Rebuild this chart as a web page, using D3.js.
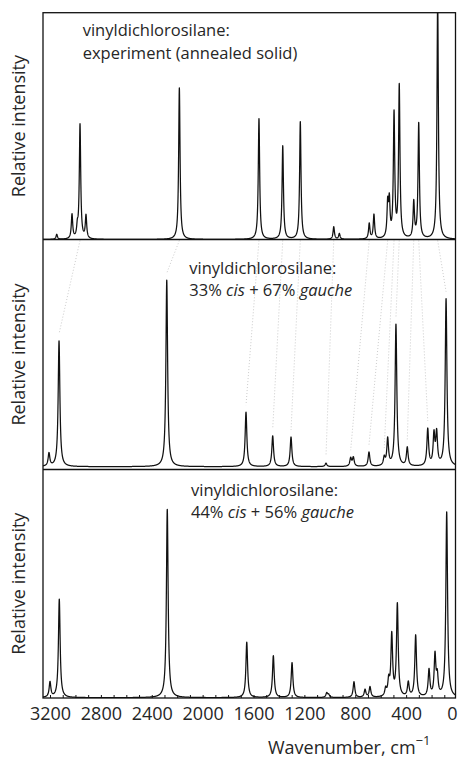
<!DOCTYPE html>
<html><head><meta charset="utf-8">
<script src="https://cdn.jsdelivr.net/npm/d3@7"></script>
<style>
body{margin:0;background:#fff}
text{font-family:"Open Sans",sans-serif;fill:#262626}
</style>
</head><body>
<svg id="chart" width="460" height="760"></svg>
<script>
// ---- data (wavenumber in cm-1, relative intensity 0-100) ----
const expWn  = [3147, 3027, 2985, 2964, 2917, 2183, 1557, 1370, 1232, 969, 925, 690, 653, 545, 532, 495, 454, 340, 301, 152];
const expI   = [2.2, 10.7, 4.4, 50.3, 10.1, 66.8, 53.2, 41.1, 51.8, 5.5, 2.5, 6.8, 10.7, 14.5, 15.4, 54.6, 67, 15.8, 50.8, 106];
const mix33Wn = [3208, 3129, 2282, 1659, 1449, 1305, 1030, 836, 815, 692, 572, 545, 480, 391, 230, 181, 160, 86];
const mix33I  = [5.7, 55.4, 82.2, 24, 13.5, 13, 1.5, 3.6, 3.9, 6.3, 3.6, 11.8, 62.5, 8.1, 16.2, 13.5, 14, 73.7];
const mix44Wn = [3200, 3127, 2278, 1653, 1444, 1297, 1024, 1009, 810, 723, 684, 561, 537, 513, 469, 383, 325, 220, 173, 155, 81];
const mix44I  = [6.7, 43.3, 83, 24.4, 18.4, 15.4, 2.0, 1.2, 6.9, 3.4, 4.6, 3.3, 6.6, 27, 40.7, 6.3, 27.2, 11.8, 18, 8.5, 81.5];
// correlation guide lines: experimental band -> calculated band (33% cis)
const corrFrom = [2964, 2183, 1557, 1370, 1232, 969, 690, 545, 495, 454, 340, 301, 152];
const corrTo   = [3129, 2282, 1659, 1449, 1305, 1030, 836, 692, 572, 480, 391, 230, 86];
const tickValues = [3200, 2800, 2400, 2000, 1600, 1200, 800, 400, 0];
const tickLabels = ["3200", "2800", "2400", "2000", "1600", "1200", "800", "400", "0"];
const minorTicks = d3.range(3200, -1, -100);
const titles = ["vinyldichlorosilane:", "vinyldichlorosilane:", "vinyldichlorosilane:"];
const subtitles = [
  [["experiment (annealed solid)", false]],
  [["33% ", false], ["cis", true], [" + 67% ", false], ["gauche", true]],
  [["44% ", false], ["cis", true], [" + 56% ", false], ["gauche", true]]
];
const yLabel = "Relative intensity";
const xLabel = "Wavenumber, cm";
const xLabelSup = "\u22121";

// ---- layout ----
const svg = d3.select("#chart");
const L = 43, R = 455.5;
const panels = [
  {top: 12.7, bottom: 239.5, base: 239.5, wn: expWn, I: expI, g: 6.5, tx: 82.7, ty: 36},
  {top: 239.5, bottom: 469.5, base: 466.7, wn: mix33Wn, I: mix33I, g: 8, tx: 189.3, ty: 273.5},
  {top: 469.5, bottom: 698, base: 697.7, wn: mix44Wn, I: mix44I, g: 8, tx: 191, ty: 495.5}
];
const x = d3.scaleLinear().domain([3200, 0]).range([50, 457]);
const grid = d3.range(3262, -1, -0.5);

function spectrum(wn, I, g) {
  return grid.map(w => {
    let s = 0;
    for (let k = 0; k < wn.length; k++) { const d = w - wn[k]; s += I[k] * g * g / (d * d + g * g); }
    return [w, s];
  });
}

const defs = svg.append("defs");
panels.forEach((p, i) => {
  p.y = d3.scaleLinear().domain([0, 100]).range([p.base, p.base - 227]);
  defs.append("clipPath").attr("id", "clip" + i)
    .append("rect").attr("x", L).attr("y", p.top).attr("width", R - L).attr("height", p.bottom - p.top);
});

// correlation guides (dotted)
const gp = panels[0], mp = panels[1];
function mixVal(w) { let s = 0; for (let k = 0; k < mp.wn.length; k++) { const d = w - mp.wn[k]; s += mp.I[k] * mp.g * mp.g / (d * d + mp.g * mp.g); } return s; }
svg.append("g").selectAll("line").data(corrFrom.map((f, i) => [f, corrTo[i]])).join("line")
  .attr("x1", d => x(d[0])).attr("y1", gp.bottom + 1)
  .attr("x2", d => x(d[1])).attr("y2", d => mp.y(mixVal(d[1])) - 7)
  .attr("stroke", "#a8a8a8").attr("stroke-width", 0.6).attr("stroke-dasharray", "1,2");

// spectra
panels.forEach((p, i) => {
  const data = spectrum(p.wn, p.I, p.g);
  svg.append("path").datum(data)
    .attr("clip-path", "url(#clip" + i + ")")
    .attr("fill", "none").attr("stroke", "#111").attr("stroke-width", 1.25).attr("stroke-linejoin", "round")
    .attr("d", d3.line().x(d => x(d[0])).y(d => p.y(d[1])));
  // titles
  svg.append("text").attr("x", p.tx).attr("y", p.ty).attr("font-size", 16.5).text(titles[i]);
  const t = svg.append("text").attr("x", p.tx).attr("y", p.ty + 22.5).attr("font-size", 16.5);
  subtitles[i].forEach(s => t.append("tspan").attr("font-style", s[1] ? "italic" : "normal").text(s[0]));
  // y label
  svg.append("text").attr("transform", `translate(25,${(p.top + p.bottom) / 2}) rotate(-90)`)
    .attr("text-anchor", "middle").attr("font-size", 18).text(yLabel);
});

// frame
const frame = svg.append("g").attr("stroke", "#111").attr("stroke-width", 1.3).attr("fill", "none");
frame.append("rect").attr("x", L).attr("y", panels[0].top).attr("width", R - L).attr("height", panels[2].bottom - panels[0].top);
[panels[0].bottom, panels[1].bottom].forEach(yy =>
  frame.append("line").attr("x1", L).attr("x2", R).attr("y1", yy).attr("y2", yy));

// x axis
const axMinor = svg.append("g").attr("transform", `translate(0,${panels[2].bottom})`)
  .call(d3.axisBottom(x).tickValues(minorTicks.filter(v => x(v) < R)).tickSize(-3).tickFormat(""));
axMinor.select(".domain").remove();
axMinor.selectAll("line").attr("stroke", "#111").attr("stroke-width", 1);
const axMajor = svg.append("g").attr("transform", `translate(0,${panels[2].bottom})`)
  .call(d3.axisBottom(x).tickValues(tickValues).tickSize(0).tickPadding(9).tickFormat((d, i) => tickLabels[i]));
axMajor.select(".domain").remove();
axMajor.selectAll("text").attr("font-size", 18).attr("font-family", '"Open Sans",sans-serif').attr("fill", "#262626");
axMajor.selectAll(".tick").filter(d => d === 0).select("text").attr("text-anchor", "end");

const xl = svg.append("text").attr("x", 268).attr("y", 754).attr("font-size", 18).text(xLabel);
xl.append("tspan").attr("font-size", 13).attr("dy", -9).text(xLabelSup);
</script>
</body></html>
